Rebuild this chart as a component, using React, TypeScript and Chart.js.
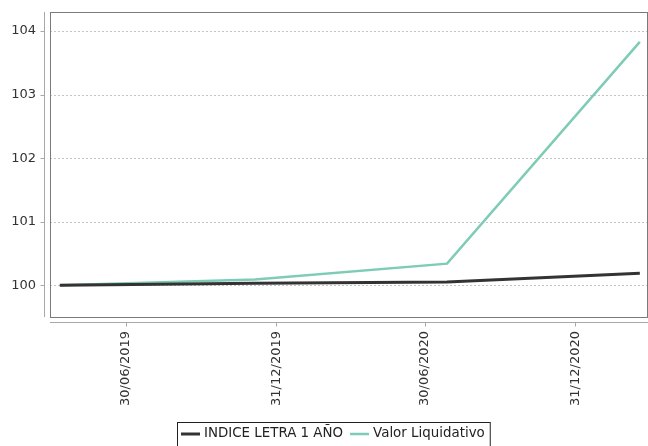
import { useEffect, useRef } from 'react';
import { Chart, registerables } from 'chart.js';

Chart.register(...registerables);

// Series sample dates and values
const POINT_DATES = ['2019-04-10', '2019-12-05', '2020-07-27', '2021-03-20'];
const INDICE_LETRA = [100, 100.03, 100.05, 100.19];
const VALOR_LIQUIDATIVO = [100, 100.09, 100.34, 103.83];

// Axes
const X_TICK_DATES = ['2019-06-30', '2019-12-31', '2020-06-30', '2020-12-31'];
const X_RANGE = ['2019-03-29', '2021-03-30'];
const Y_TICKS = [100, 101, 102, 103, 104];
const Y_RANGE = [99.5, 104.3];

const SERIES_NAMES = ['INDICE LETRA 1 AÑO', 'Valor Liquidativo'];
const SERIES_COLORS = ['#333333', '#7ecbb6'];
const SERIES_WIDTHS = [3, 2.5];

const FONT = '"DejaVu Sans", "Liberation Sans", sans-serif';
const DAY = 86400000;

const toDay = (iso: string) => {
  const [y, m, d] = iso.split('-').map(Number);
  return Date.UTC(y, m - 1, d) / DAY;
};

const fmtDay = (v: number) => {
  const dt = new Date(Math.round(v) * DAY);
  const dd = String(dt.getUTCDate()).padStart(2, '0');
  const mm = String(dt.getUTCMonth() + 1).padStart(2, '0');
  return `${dd}/${mm}/${dt.getUTCFullYear()}`;
};

// Dashed grid, plot frame, offset axis lines and tick marks
const framePlugin = {
  id: 'frame',
  beforeDatasetsDraw(chart: any) {
    const { ctx, chartArea: a, scales } = chart;
    const ys = scales.y;
    const xs = scales.x;
    const seg = (x1: number, y1: number, x2: number, y2: number) => {
      ctx.beginPath();
      ctx.moveTo(x1, y1);
      ctx.lineTo(x2, y2);
      ctx.stroke();
    };
    ctx.save();
    ctx.lineWidth = 1;

    ctx.strokeStyle = '#c4c4c4';
    ctx.setLineDash([2, 2]);
    for (const v of Y_TICKS) {
      const py = Math.round(ys.getPixelForValue(v)) + 0.5;
      seg(a.left, py, a.right, py);
    }
    ctx.setLineDash([]);

    ctx.strokeStyle = '#7a7a7a';
    ctx.strokeRect(a.left + 0.5, a.top + 0.5, a.right - a.left - 1, a.bottom - a.top);

    ctx.strokeStyle = '#a8a8a8';
    const axX = a.left - 5.5;
    seg(axX, a.top, axX, a.bottom);
    const axY = a.bottom + 5.5;
    seg(a.left, axY, a.right, axY);

    for (const v of Y_TICKS) {
      const py = Math.round(ys.getPixelForValue(v)) + 0.5;
      seg(axX - 4, py, axX, py);
    }
    for (const d of X_TICK_DATES) {
      const px = Math.round(xs.getPixelForValue(toDay(d))) + 0.5;
      seg(px, axY, px, axY + 4);
    }
    ctx.restore();
  },
};

// Boxed legend under the axis labels
const legendPlugin = {
  id: 'boxLegend',
  afterDraw(chart: any) {
    const { ctx } = chart;
    const left = 177;
    const top = 422;
    const midY = 434;
    ctx.save();
    ctx.font = `13.4px ${FONT}`;
    ctx.textBaseline = 'middle';
    ctx.textAlign = 'left';
    let x = left + 4;
    SERIES_NAMES.forEach((name, i) => {
      ctx.strokeStyle = SERIES_COLORS[i];
      ctx.lineWidth = SERIES_WIDTHS[i];
      ctx.beginPath();
      ctx.moveTo(x, midY);
      ctx.lineTo(x + 19, midY);
      ctx.stroke();
      ctx.fillStyle = '#222';
      ctx.fillText(name, x + 23, midY);
      x += 23 + ctx.measureText(name).width + 7;
    });
    const right = x - 2;
    ctx.strokeStyle = '#222';
    ctx.lineWidth = 1;
    ctx.strokeRect(left + 0.5, top + 0.5, right - left, 40);
    ctx.restore();
  },
};

export default function App() {
  const canvasRef = useRef<HTMLCanvasElement | null>(null);

  useEffect(() => {
    if (!canvasRef.current) return;
    const series = [INDICE_LETRA, VALOR_LIQUIDATIVO];
    const chart = new Chart(canvasRef.current, {
      type: 'line',
      data: {
        datasets: series.map((vals, i) => ({
          label: SERIES_NAMES[i],
          data: vals.map((v, k) => ({ x: toDay(POINT_DATES[k]), y: v })),
          borderColor: SERIES_COLORS[i],
          backgroundColor: SERIES_COLORS[i],
          borderWidth: SERIES_WIDTHS[i],
          pointRadius: 0,
          tension: 0,
          fill: false,
        })),
      },
      options: {
        responsive: false,
        animation: false,
        layout: { padding: { top: 12, left: 0, right: 0, bottom: 0 } },
        plugins: { legend: { display: false }, tooltip: { enabled: false } },
        scales: {
          x: {
            type: 'linear',
            min: toDay(X_RANGE[0]),
            max: toDay(X_RANGE[1]),
            afterBuildTicks: (s: any) => {
              s.ticks = X_TICK_DATES.map((d) => ({ value: toDay(d) }));
            },
            afterFit: (s: any) => {
              s.height = 129;
              s.paddingLeft = 0;
              s.paddingRight = 0;
            },
            grid: { display: false, drawTicks: false },
            border: { display: false },
            ticks: {
              autoSkip: false,
              minRotation: 90,
              maxRotation: 90,
              padding: 14,
              color: '#333',
              font: { family: FONT, size: 13 },
              callback: (v: any) => fmtDay(Number(v)),
            },
          },
          y: {
            type: 'linear',
            min: Y_RANGE[0],
            max: Y_RANGE[1],
            afterBuildTicks: (s: any) => {
              s.ticks = Y_TICKS.map((v) => ({ value: v }));
            },
            afterFit: (s: any) => {
              s.width = 50;
              s.paddingTop = 0;
              s.paddingBottom = 0;
            },
            grid: { display: false, drawTicks: false },
            border: { display: false },
            ticks: {
              padding: 14,
              color: '#333',
              font: { family: FONT, size: 13 },
              callback: (v: any) => String(v),
            },
          },
        },
      },
      plugins: [framePlugin, legendPlugin],
    });
    return () => chart.destroy();
  }, []);

  return (
    <div style={{ position: 'fixed', left: 0, top: 0, width: 648, height: 446, background: '#fff' }}>
      <canvas ref={canvasRef} width={648} height={446} style={{ display: 'block' }} />
    </div>
  );
}
